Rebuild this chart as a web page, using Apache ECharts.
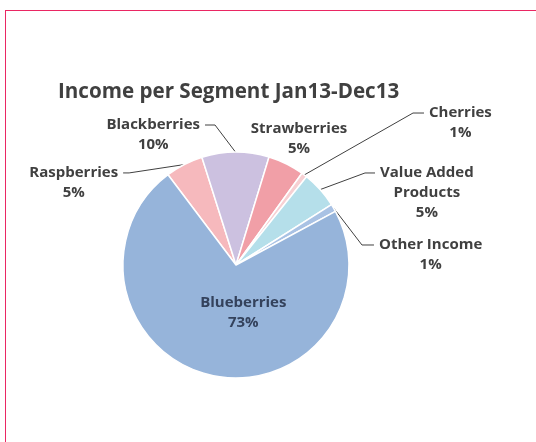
<!DOCTYPE html>
<html><head><meta charset="utf-8">
<script src="https://cdn.jsdelivr.net/npm/echarts@6/dist/echarts.min.js"></script>
<style>
html,body{margin:0;padding:0;background:#fff;}
#frame{position:absolute;left:5px;top:10px;width:600px;height:500px;border-top:1.5px solid #ea2763;border-left:1.5px solid #ea2763;}
#chart{position:absolute;left:0;top:0;width:536px;height:442px;}
</style></head><body>
<div id="frame"></div><div id="chart"></div>
<script>
// ---- data ----
const titleText = 'Income per Segment Jan13-Dec13';
const categories = ['Raspberries', 'Blackberries', 'Strawberries', 'Cherries', 'Value Added Products', 'Other Income', 'Blueberries'];
const values = [5.4, 9.6, 5.2, 0.8, 5.3, 1.1, 72.6];

// ---- styles / layout ----
const colors = ['#f6b9bd', '#ccc1e0', '#f19fa7', '#f7d0d3', '#b5dfea', '#a9c2e4', '#96b4da'];
const lineLength = [-9.4, 27, 27.6, 77.7, 24.9, -73.4, 0];
const lineLength2 = [65.4, 30.3, -4.4, 72.8, 36.3, 103.8, 0];
const stubLength = [6, 10, null, 11, 10, 12, null];
const LH = 20;
const FONT = '"Open Sans"';

function labelText(name) { return name.replace('Value Added ', 'Value Added\n'); }

const seriesData = categories.map((c, i) => {
  const txt = labelText(c);
  const nLines = txt.split('\n').length + 1;
  const inside = c === 'Blueberries';
  const noLine = stubLength[i] == null;
  return {
    name: c,
    value: values[i],
    itemStyle: { color: colors[i] },
    label: {
      position: inside ? 'inside' : 'outside',
      padding: noLine ? 0 : [(nLines - 1) * LH, 0, 0, 0],
      rich: { t: { color: inside ? '#34425c' : '#404040' } }
    },
    labelLine: { show: !noLine, length: lineLength[i], length2: lineLength2[i] }
  };
});

const chart = echarts.init(document.getElementById('chart'), null, { renderer: 'canvas' });
chart.setOption({
  backgroundColor: 'transparent',
  animation: false,
  title: {
    text: titleText, left: 58, top: 82, padding: 0,
    textStyle: { fontFamily: FONT, fontSize: 20.6, fontWeight: 'bold', color: '#404040' }
  },
  series: [{
    type: 'pie',
    center: [236, 265],
    radius: 113,
    startAngle: 127,
    clockwise: true,
    percentPrecision: 0,
    avoidLabelOverlap: false,
    itemStyle: { borderColor: '#ffffff', borderWidth: 1.5 },
    label: {
      show: true,
      distanceToLabelLine: 5,
      formatter: p => '{t|' + labelText(p.name) + '}\n{t|' + p.percent + '%}',
      rich: { t: { align: 'center', fontFamily: FONT, fontSize: 15, fontWeight: 'bold', lineHeight: LH, color: '#404040' } }
    },
    labelLine: { show: true, smooth: false, lineStyle: { color: '#404040', width: 1 } },
    labelLayout: function (p) {
      const i = p.dataIndex;
      const out = {};
      if (categories[i] === 'Blueberries') { out.dx = 20; out.dy = -10; }
      if (categories[i] === 'Strawberries') { out.align = 'center'; }
      const pts = p.labelLinePoints;
      if (stubLength[i] != null && pts && pts.length === 3) {
        const end = pts[2];
        const sign = end[0] < pts[0][0] ? 1 : -1;
        out.labelLinePoints = [pts[0], [end[0] + sign * stubLength[i], end[1]], end];
      }
      return out;
    },
    emphasis: { disabled: true },
    data: seriesData
  }]
});
</script>
</body></html>
